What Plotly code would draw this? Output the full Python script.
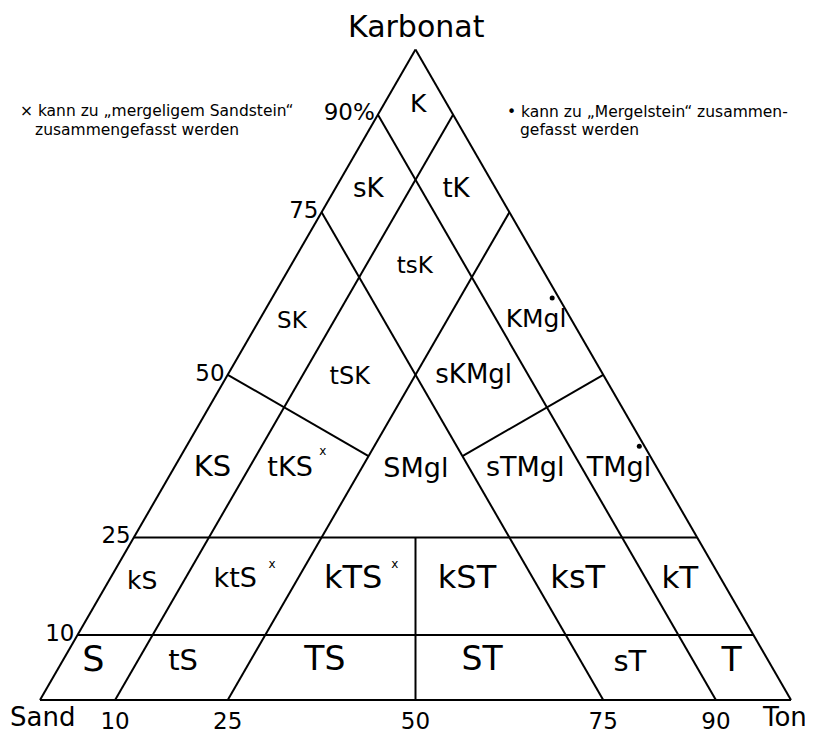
import plotly.graph_objects as go

# ---- data: ternary coordinates in percent (Karbonat, Sand, Ton) ----
# class boundary segments: start point and end point
seg_start_k = [10, 25, 0, 0, 0, 0, 0, 50, 50]
seg_start_s = [90, 75, 50, 90, 10, 75, 25, 50, 0]
seg_start_t = [0, 0, 50, 10, 90, 25, 75, 0, 50]
seg_end_k = [10, 25, 25, 90, 90, 75, 75, 37.5, 37.5]
seg_end_s = [0, 0, 37.5, 0, 10, 0, 25, 37.5, 25]
seg_end_t = [90, 75, 37.5, 10, 0, 25, 0, 25, 37.5]

# class names and where they are written
label_text = ["K", "sK", "tK", "tsK", "SK", "KMgl", "tSK", "sKMgl",
              "KS", "tKS", "SMgl", "sTMgl", "TMgl",
              "kS", "ktS", "kTS", "kST", "ksT", "kT",
              "S", "tS", "TS", "ST", "sT", "T"]
label_k = [91.3, 78.4, 78.4, 66.6, 58.1, 58.3, 49.5, 49.7,
           35.5, 35.4, 35.4, 35.4, 35.4,
           18.0, 18.4, 18.4, 18.4, 18.4, 18.4,
           5.8, 5.7, 5.8, 5.8, 5.5, 5.8]
label_s = [4.0, 17.1, 5.4, 16.8, 37.4, 4.8, 34.0, 17.4,
           59.3, 49.0, 32.3, 17.7, 5.2,
           77.4, 64.8, 49.1, 33.9, 19.2, 5.6,
           90.0, 78.1, 59.1, 38.2, 18.7, 5.0]
label_t = [4.7, 4.5, 16.2, 16.6, 4.5, 36.9, 16.5, 32.9,
           5.2, 15.6, 32.4, 46.9, 59.4,
           4.6, 16.8, 32.5, 47.6, 62.4, 76.0,
           4.2, 16.2, 35.0, 55.9, 75.8, 89.2]

# footnote marks: "x" (mergeliger Sandstein) and dot (Mergelstein)
cross_k = [38.1, 20.8, 20.8]
cross_s = [43.3, 58.7, 42.4]
cross_t = [18.6, 20.5, 36.9]
dot_k = [61.8, 39.0]
dot_s = [0.9, 0.7]
dot_t = [37.3, 60.3]

# axis ticks
karbonat_ticks = [10, 25, 50, 75, 90]
karbonat_ticktext = ["10", "25", "50", "75", "90%"]
sand_ticks = [90, 75, 50, 25, 10]
ton_ticktext = ["10", "25", "50", "75", "90"]

# ---- styles ----
FONT = "DejaVu Sans"
label_size = [25, 26, 26, 23, 23, 25, 24, 26,
              29, 27, 27, 27, 27,
              25, 27, 32, 32, 32, 31,
              35, 29, 33, 33, 29, 33]

OFF = 8            # page body margin around the figure
W, H = 813 - OFF, 734 - OFF

def px(x):
    return (x - OFF) / W

def py(y):
    return 1 - (y - OFF) / H

fig = go.Figure()

for i in range(len(seg_start_k)):
    fig.add_trace(go.Scatterternary(
        a=[seg_start_k[i], seg_end_k[i]],
        b=[seg_start_s[i], seg_end_s[i]],
        c=[seg_start_t[i], seg_end_t[i]],
        mode="lines",
        line=dict(color="black", width=2),
        hoverinfo="skip",
    ))

fig.add_trace(go.Scatterternary(
    a=label_k, b=label_s, c=label_t,
    mode="text", text=label_text,
    textposition="middle center",
    textfont=dict(family=FONT, size=label_size, color="black"),
    hoverinfo="skip",
))

fig.add_trace(go.Scatterternary(
    a=cross_k, b=cross_s, c=cross_t,
    mode="text", text=["x"] * len(cross_k),
    textposition="middle center",
    textfont=dict(family=FONT, size=12, color="black"),
    hoverinfo="skip",
))

fig.add_trace(go.Scatterternary(
    a=dot_k, b=dot_s, c=dot_t,
    mode="markers",
    marker=dict(color="black", size=5),
    hoverinfo="skip",
))

axis_common = dict(
    showgrid=False, showline=True, linecolor="black", linewidth=2,
    ticks="", min=0, title=dict(text=""),
    tickfont=dict(family=FONT, size=23, color="black"),
)

fig.update_layout(
    width=W, height=H,
    margin=dict(l=0, r=0, t=0, b=0),
    paper_bgcolor="white",
    showlegend=False,
    ternary=dict(
        sum=100,
        bgcolor="white",
        domain=dict(x=[px(40), px(791)], y=[py(702), py(47.6)]),
        aaxis=dict(axis_common, tickmode="array", tickvals=karbonat_ticks,
                   ticktext=karbonat_ticktext),
        baxis=dict(axis_common, tickmode="array", tickvals=sand_ticks,
                   ticktext=ton_ticktext),
        caxis=dict(axis_common, showticklabels=False),
    ),
)

def note(text, x, y, size, anchor="center"):
    fig.add_annotation(text=text, x=px(x), y=py(y), xref="paper", yref="paper",
                       showarrow=False, xanchor=anchor, yanchor="middle",
                       font=dict(family=FONT, size=size, color="black"))

note("Karbonat", 416, 26, 30)
note("Sand", 42, 717, 26)
note("Ton", 784, 717, 26)
note("× kann zu „mergeligem Sandstein“", 18, 111, 15.5, "left")
note("zusammengefasst werden", 33, 130, 15.5, "left")
note("• kann zu „Mergelstein“ zusammen-", 505, 112, 15.5, "left")
note("gefasst werden", 518, 130, 15.5, "left")

fig.write_html("out.html")
